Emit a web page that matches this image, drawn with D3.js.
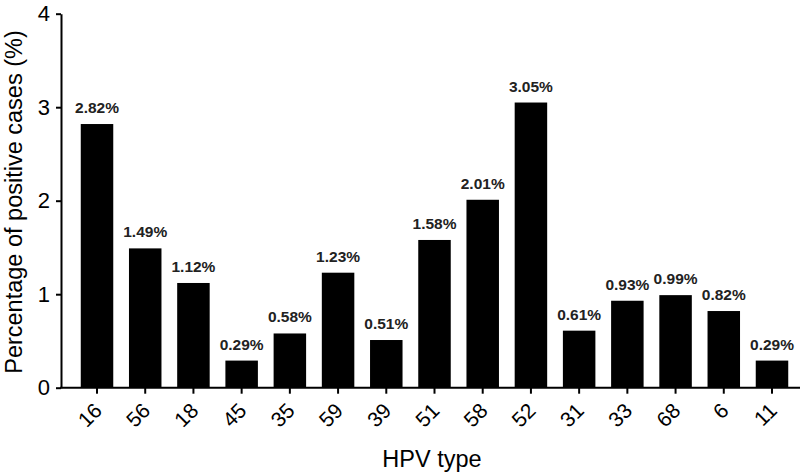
<!DOCTYPE html>
<html>
<head>
<meta charset="utf-8">
<script src="https://cdn.jsdelivr.net/npm/d3@7"></script>
<style>
  html, body { margin: 0; padding: 0; background: #fff; }
  svg { display: block; font-family: "Liberation Sans", Arial, Helvetica, sans-serif; }
</style>
</head>
<body>
<svg id="chart" width="810" height="476"></svg>
<script>
const categories = ["16","56","18","45","35","59","39","51","58","52","31","33","68","6","11"];
const values = [2.82, 1.49, 1.12, 0.29, 0.58, 1.23, 0.51, 1.58, 2.01, 3.05, 0.61, 0.93, 0.99, 0.82, 0.29];
const valueLabels = ["2.82%","1.49%","1.12%","0.29%","0.58%","1.23%","0.51%","1.58%","2.01%","3.05%","0.61%","0.93%","0.99%","0.82%","0.29%"];
const yTicks = [0, 1, 2, 3, 4];
const xTitle = "HPV type";
const yTitle = "Percentage of positive cases (%)";

const svg = d3.select("#chart");
const y = d3.scaleLinear().domain([0, 4]).range([387.7, 13.7]);
const x = d3.scaleBand().domain(categories).range([72.9, 796.1]).paddingInner(0.326).paddingOuter(0.163);

// bars
svg.append("g").selectAll("rect").data(values).join("rect")
  .attr("x", (d, i) => x(categories[i]))
  .attr("width", x.bandwidth())
  .attr("y", d => y(d))
  .attr("height", d => y(0) - y(d))
  .attr("fill", "#000");

// value labels
svg.append("g").selectAll("text").data(values).join("text")
  .attr("x", (d, i) => x(categories[i]) + x.bandwidth() / 2)
  .attr("y", d => y(d) - 11)
  .attr("text-anchor", "middle")
  .attr("font-size", "15.5px")
  .attr("font-weight", "bold")
  .attr("fill", "#222")
  .text((d, i) => valueLabels[i]);

// y axis
const yAxis = svg.append("g").attr("transform", "translate(61,0)")
  .call(d3.axisLeft(y).tickValues(yTicks).tickFormat(d3.format("d")).tickSize(5).tickSizeOuter(0).tickPadding(6));
yAxis.selectAll("path, line").attr("stroke", "#000").attr("stroke-width", 2);
yAxis.selectAll("text").attr("font-size", "22px").attr("fill", "#000").attr("font-family", null);

// x axis
const xAxis = svg.append("g").attr("transform", `translate(0,${y(0)})`)
  .call(d3.axisBottom(x).tickSize(6).tickSizeOuter(0).tickFormat(d => d));
xAxis.select(".domain").remove();
xAxis.selectAll("line").attr("stroke", "#000").attr("stroke-width", 2);
xAxis.selectAll("text")
  .attr("font-size", "21px").attr("fill", "#000").attr("font-family", null)
  .attr("text-anchor", "end")
  .attr("y", 0).attr("dy", "0.35em")
  .attr("transform", "translate(1,19) rotate(-45)");
svg.append("line")
  .attr("x1", 60).attr("x2", 800)
  .attr("y1", y(0)).attr("y2", y(0))
  .attr("stroke", "#000").attr("stroke-width", 2);

// titles
svg.append("text")
  .attr("x", 432).attr("y", 467)
  .attr("text-anchor", "middle")
  .attr("font-size", "23.5px")
  .attr("fill", "#000")
  .text(xTitle);
svg.append("text")
  .attr("transform", "translate(22,202) rotate(-90)")
  .attr("text-anchor", "middle")
  .attr("font-size", "23.5px")
  .attr("fill", "#000")
  .text(yTitle);
</script>
</body>
</html>
